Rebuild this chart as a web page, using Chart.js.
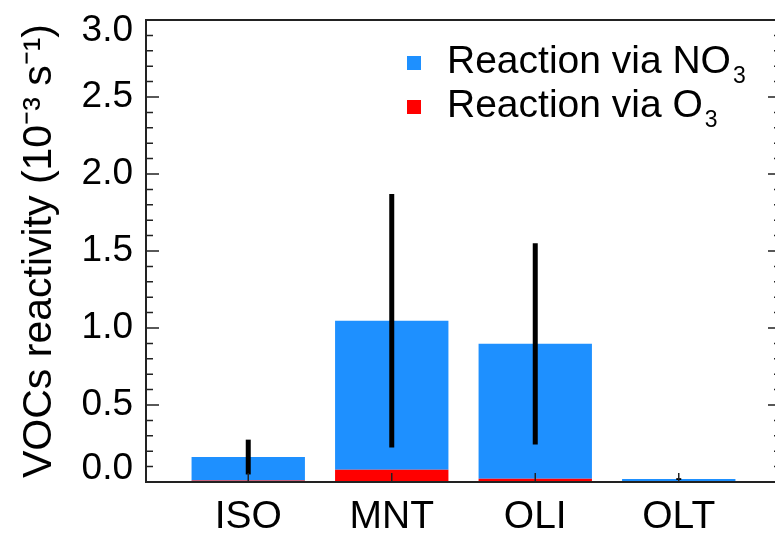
<!DOCTYPE html>
<html>
<head>
<meta charset="utf-8">
<script src="https://cdn.jsdelivr.net/npm/chart.js@4.4.1/dist/chart.umd.min.js"></script>
<style>
  html, body { margin: 0; padding: 0; background: #fff; overflow: hidden; }
  /* the plot frame runs a few px past the right edge of the window, like the original */
  #wrap { position: absolute; left: 0; top: 0; width: 790px; height: 536px; }
</style>
</head>
<body>
<div id="wrap"><canvas id="myChart"></canvas></div>
<script>
// x-axis categories
const categories = ["ISO", "MNT", "OLI", "OLT"];
// reactivity via O3 (bottom of each bar), 10^-3 s^-1
const viaO3 = [0.010, 0.080, 0.021, 0.005];
// reactivity via NO3 (stacked on top)
const viaNO3 = [0.152, 0.967, 0.876, 0.014];
// half length of the error bar around the total
const errTotal = [0.113, 0.823, 0.653, 0.006];
// y tick values
const yTicks = [0, 0.5, 1.0, 1.5, 2.0, 2.5, 3.0];
const seriesNames = ["Reaction via NO₃", "Reaction via O₃"];

const FONT = "'Liberation Sans', Arial, Helvetica, sans-serif";

// error bars, inward ticks and the box around the plot
const frame = {
  id: "frame",
  afterDatasetsDraw(chart) {
    const { ctx, chartArea: a, scales: { x, y } } = chart;
    ctx.save();

    //   error bars
    ctx.strokeStyle = "#000";
    ctx.lineWidth = 5;
    categories.forEach((c, i) => {
      const total = viaO3[i] + viaNO3[i];
      const px = x.getPixelForValue(i);
      ctx.beginPath();
      ctx.moveTo(px, y.getPixelForValue(total + errTotal[i]));
      ctx.lineTo(px, y.getPixelForValue(total - errTotal[i]));
      ctx.stroke();
    });

    //   ticks pointing into the plot
    ctx.strokeStyle = "#222";
    ctx.lineWidth = 1.5;
    for (let k = 1; k < 30; k++) {
      const py = y.getPixelForValue(k / 10);
      const len = k % 5 === 0 ? 13 : 7;
      ctx.beginPath();
      ctx.moveTo(a.left, py);
      ctx.lineTo(a.left + len, py);
      ctx.moveTo(a.right, py);
      ctx.lineTo(a.right - len, py);
      ctx.stroke();
    }
    categories.forEach((c, i) => {
      const px = x.getPixelForValue(i);
      ctx.beginPath();
      ctx.moveTo(px, a.bottom);
      ctx.lineTo(px, a.bottom - 9);
      ctx.stroke();
    });

    ctx.lineWidth = 2;
    ctx.strokeRect(a.left, a.top, a.right - a.left, a.bottom - a.top);
    ctx.restore();
  },
};

// legend with the subscript 3
const legendBox = {
  id: "legendBox",
  afterDraw(chart) {
    const { ctx, chartArea: a } = chart;
    const order = [1, 0]; // NO3 listed first
    ctx.save();
    order.forEach((d, row) => {
      const ds = chart.data.datasets[d];
      const cy = a.top + 43 + row * 44;
      ctx.fillStyle = ds.backgroundColor;
      ctx.fillRect(a.left + 261, cy - 7, 14, 14);

      const main = ds.label.replace("₃", "");
      ctx.fillStyle = "#000";
      ctx.textBaseline = "alphabetic";
      ctx.font = "39px " + FONT;
      const tx = a.left + 301;
      ctx.fillText(main, tx, cy + 10);
      const w = ctx.measureText(main).width;
      ctx.font = "23px " + FONT;
      ctx.fillText("3", tx + w + 2, cy + 20);
    });
    ctx.restore();
  },
};

let ctx = document.getElementById("myChart").getContext("2d");
let myChart = new Chart(ctx, {
  type: "bar",
  data: {
    datasets: [
      {
        label: seriesNames[1],
        data: viaO3.map((v, i) => ({ x: i, y: v })),
        backgroundColor: "#ff0000",
      },
      {
        label: seriesNames[0],
        data: viaNO3.map((v, i) => ({ x: i, y: v })),
        backgroundColor: "#1e90ff",
      },
    ],
  },
  options: {
    responsive: true,
    maintainAspectRatio: false,
    animation: false,
    categoryPercentage: 1,
    barPercentage: 0.79,
    layout: { padding: { top: 20, right: 9, left: 0, bottom: 0 } },
    plugins: {
      legend: { display: false },
      tooltip: { enabled: false },
    },
    scales: {
      x: {
        type: "linear",
        min: -0.7125,
        max: 3.7125,
        offset: false,
        stacked: true,
        grid: { display: false, drawTicks: false, offset: false },
        border: { display: false },
        afterBuildTicks: (axis) => {
          axis.ticks = categories.map((c, i) => ({ value: i }));
        },
        afterFit: (axis) => {
          axis.height = 54;
          axis.paddingLeft = 0;
          axis.paddingRight = 0;
        },
        ticks: {
          callback: (v) => categories[v],
          font: { family: FONT, size: 39 },
          color: "#000",
          padding: 12,
          maxRotation: 0,
          autoSkip: false,
        },
      },
      y: {
        min: 0,
        max: 3,
        stacked: true,
        grid: { display: false, drawTicks: false },
        border: { display: false },
        afterBuildTicks: (axis) => {
          axis.ticks = yTicks.map((v) => ({ value: v }));
        },
        afterFit: (axis) => {
          axis.width = 146;
          axis.paddingTop = 0;
          axis.paddingBottom = 0;
        },
        ticks: {
          // end labels are nudged inside the axis range with an empty second line
          callback: (v) => {
            const s = v.toFixed(1);
            if (v === 0) return [s, ""];
            if (v === 3) return ["", s];
            return s;
          },
          font: (c) => {
            const v = c.tick ? c.tick.value : null;
            let lh = 1.2;
            if (v === 0) lh = "26px";
            if (v === 3) lh = "22px";
            return { family: FONT, size: 37, lineHeight: lh };
          },
          color: "#000",
          padding: 13,
        },
        title: {
          display: true,
          text: "VOCs reactivity (10⁻³ s⁻¹)",
          font: { family: FONT, size: 41 },
          color: "#000",
          padding: { top: 15, bottom: 0 },
        },
      },
    },
  },
  plugins: [frame, legendBox],
});
</script>
</body>
</html>
